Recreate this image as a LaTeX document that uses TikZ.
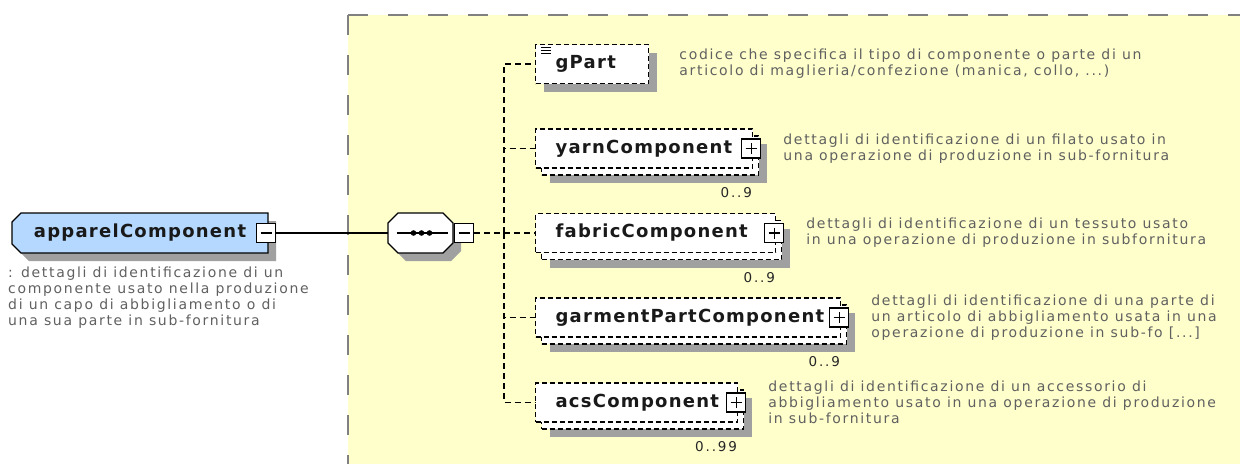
\documentclass[tikz,border=0pt]{standalone}
\usepackage{fontspec}
\usepackage{xcolor}
\usepackage{tikz}
\usetikzlibrary{shadows,positioning,calc}

\newfontfamily\lblfam[LetterSpace=7]{DejaVu Sans}
\newfontfamily\descfam[LetterSpace=12]{DejaVu Sans}
\newfontfamily\occfam[LetterSpace=14]{DejaVu Sans}

\definecolor{bgyellow}{RGB}{255,255,204}
\definecolor{bordergrey}{RGB}{128,128,128}
\definecolor{shadowgrey}{RGB}{160,160,160}
\definecolor{elemblue}{RGB}{180,216,255}
\definecolor{descgrey}{RGB}{96,96,96}

% outlines with cut corners, traced round a node
\newcommand{\octpath}[2]{([xshift=#2]#1.north west) -- ([xshift=-#2]#1.north east) -- ([yshift=-#2]#1.north east) -- ([yshift=#2]#1.south east) -- ([xshift=-#2]#1.south east) -- ([xshift=#2]#1.south west) -- ([yshift=#2]#1.south west) -- ([yshift=-#2]#1.north west) -- cycle}
\newcommand{\tagpath}[2]{([xshift=#2]#1.north west) -- (#1.north east) -- (#1.south east) -- ([xshift=#2]#1.south west) -- ([yshift=#2]#1.south west) -- ([yshift=-#2]#1.north west) -- cycle}

\tikzset{
  lbl/.style={font=\lblfam\bfseries\fontsize{18}{20}\selectfont, text=black!90},
  elembox/.style={draw, line width=1.2pt, fill=white, dash pattern=on 5pt off 3pt, lbl,
    anchor=west, inner xsep=20pt, inner ysep=0pt, minimum height=39pt},
  elem/.style={elembox, text width=#1,
    drop shadow={shadow xshift=8pt, shadow yshift=-8pt, fill=shadowgrey, opacity=1}},
  elemmulti/.style={elembox, text width=#1,
    drop shadow={shadow xshift=14pt, shadow yshift=-15pt, fill=shadowgrey, opacity=1},
    copy shadow={shadow xshift=6pt, shadow yshift=-7pt, draw=black, fill=white}},
  frame/.style={inner sep=0pt, outer sep=0pt},
  outline/.style={draw, line width=1.2pt,
    drop shadow={shadow xshift=8pt, shadow yshift=-8pt, fill=shadowgrey, opacity=1}},
  togglebox/.style={draw, solid, fill=white, line width=1.1pt, minimum size=19pt, inner sep=0pt},
  plusbox/.style={togglebox, path picture={
    \draw[line width=1.1pt] ([yshift=-4pt]path picture bounding box.north) -- ([yshift=4pt]path picture bounding box.south)
      ([xshift=4pt]path picture bounding box.west) -- ([xshift=-4pt]path picture bounding box.east);}},
  minusbox/.style={togglebox, path picture={
    \draw[line width=1.1pt] ([xshift=4pt]path picture bounding box.west) -- ([xshift=-4pt]path picture bounding box.east);}},
  desc/.style={font=\descfam\fontsize{14}{16}\selectfont, text=descgrey, align=left, inner sep=0pt},
  occ/.style={font=\occfam\fontsize{13.5}{15}\selectfont, text=black!85, inner sep=0pt},
  link/.style={line width=1.2pt, dash pattern=on 6pt off 4pt},
  areaborder/.style={bordergrey, line width=2.5pt, dash pattern=on 20pt off 20pt}
}

\begin{document}
\begin{tikzpicture}[x=1pt,y=-1pt]
            \useasboundingbox (0,0) rectangle (1240,464);

            % model group area
            \fill[bgyellow] (348,15) rectangle (1240,464);
            \draw[areaborder] (348,15) -- (1240,15);
            \draw[areaborder] (348,15) -- (348,464);

            \node[frame, minimum width=256pt, minimum height=40pt] (apparel) at (140,233) {};
            \draw[outline, fill=elemblue] \tagpath{apparel}{9pt};
            \node[lbl] (appname) at (apparel) {apparelComponent};
            \node[minusbox] (appx) at ([xshift=-2pt]apparel.east) {};
            \node[desc, anchor=north west] (appdesc) at (8,266.5) {: dettagli di identificazione di un\\componente usato nella produzione\\di un capo di abbigliamento o di\\una sua parte in sub-fornitura};

            % sequence
            \node[frame, minimum width=65pt, minimum height=40pt] (seq) at (420.5,233) {};
            \draw[outline, fill=white] \octpath{seq}{10pt};
            \draw[line width=1.4pt] ([xshift=-24pt]seq.center) -- ([xshift=27pt]seq.center);
            \foreach \dx in {-7pt,1pt,9pt}
                \fill ([xshift=\dx]seq.center) circle (2.8pt);
            \node[minusbox, right=1pt of seq] (seqx) {};

            % children
            \node[elem=73pt] (gpart) at (535,64) {gPart};
            \foreach \dy in {4pt,7pt,10pt}
                \draw[line width=0.9pt] ([xshift=6pt,yshift=-\dy]gpart.north west) -- ++(10,0);
            \node[elemmulti=177pt] (yarn) at (535,148.5) {yarnComponent};
            \node[elemmulti=200pt] (fabric) at (535,233) {fabricComponent};
            \node[elemmulti=265pt] (garment) at (535,317.5) {garmentPartComponent};
            \node[elemmulti=162pt] (acs) at (535,402.5) {acsComponent};

            \foreach \c in {yarn,fabric,garment,acs}
                \node[plusbox] (\c x) at ([xshift=-2pt]\c.east) {};

            \node[occ, below left=19pt and 1pt of yarn.south east] (yarnocc) {0..9};
            \node[occ, below left=19pt and 1pt of fabric.south east] (fabricocc) {0..9};
            \node[occ, below left=19pt and 1pt of garment.south east] (garmentocc) {0..9};
            \node[occ, below left=19pt and 1pt of acs.south east] (acsocc) {0..99};

            \node[desc, right=30pt of gpart] (gpartdesc) {codice che specifica il tipo di componente o parte di un\\articolo di maglieria/confezione (manica, collo, ...)};
            \node[desc, right=30pt of yarn] (yarndesc) {dettagli di identificazione di un filato usato in\\una operazione di produzione in sub-fornitura};
            \node[desc, right=30pt of fabric] (fabricdesc) {dettagli di identificazione di un tessuto usato\\in una operazione di produzione in subfornitura};
            \node[desc, right=30pt of garment] (garmentdesc) {dettagli di identificazione di una parte di\\un articolo di abbigliamento usata in una\\operazione di produzione in sub-fo [...]};
            \node[desc, right=30pt of acs] (acsdesc) {dettagli di identificazione di un accessorio di\\abbigliamento usato in una operazione di produzione\\in sub-fornitura};

            % connectors
            \draw[line width=1.2pt] (appx.east) -- (seq.west);
            \coordinate (trunk) at (504,233);
            \draw[link] (seqx.east) -- (trunk);
            \foreach \c in {gpart,yarn,fabric,garment,acs}
                \draw[link] (trunk) |- (\c.west);
        \end{tikzpicture}
\end{document}
